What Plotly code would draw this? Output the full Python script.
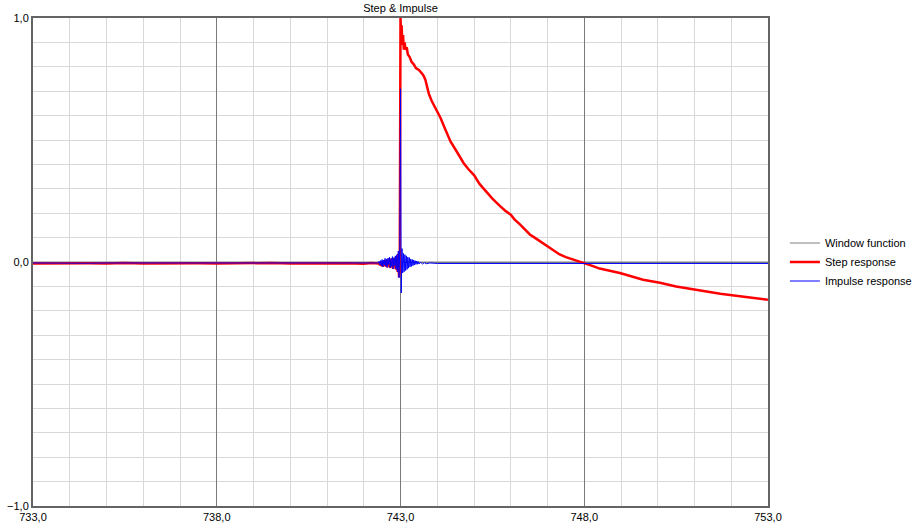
import plotly.graph_objects as go

# ---- data (time in ms, normalised amplitude) ----
window_x = [733.0, 753.0]
window_y = [0.0, 0.0]

base_x = [733.0, 733.5, 734.0, 734.5, 735.0, 735.5, 736.0, 736.5, 737.0, 737.5, 738.0,
          738.5, 739.0, 739.5, 740.0, 740.5, 741.0, 741.5, 742.0, 742.2]
step_base = [-0.006, -0.005, -0.007, -0.005, -0.006, -0.004, -0.006, -0.005, -0.006, -0.005, -0.006,
             -0.005, -0.006, -0.004, -0.006, -0.005, -0.006, -0.005, -0.007, -0.004]
imp_base = [-0.004, -0.005, -0.004, -0.005, -0.004, -0.004, -0.005, -0.004, -0.005, -0.004, -0.005,
            -0.004, -0.005, -0.004, -0.005, -0.004, -0.005, -0.004, -0.006, -0.003]

ring_x = [742.40, 742.42, 742.44, 742.46, 742.48, 742.50, 742.52, 742.54, 742.56, 742.58,
          742.60, 742.62, 742.64, 742.66, 742.68, 742.70, 742.72, 742.74, 742.76, 742.78,
          742.80, 742.82, 742.84, 742.86, 742.88, 742.90, 742.92, 742.94, 742.96, 742.98]
imp_ring = [-0.004, 0.003, -0.012, 0.006, -0.015, 0.010, -0.020, 0.008, -0.012, 0.015,
            -0.018, 0.012, -0.022, 0.016, -0.010, 0.020, -0.025, 0.014, -0.018, 0.022,
            -0.028, 0.018, -0.015, 0.025, -0.030, 0.030, -0.040, 0.045, -0.065, 0.060]
step_ring = [-0.006, -0.002, -0.014, -0.002, -0.016, 0.002, -0.020, -0.004, -0.014, 0.008,
             -0.018, 0.004, -0.022, 0.010, -0.010, 0.014, -0.024, 0.008, -0.018, 0.016,
             -0.028, 0.012, -0.014, 0.018, -0.030, 0.024, -0.040, 0.034, -0.062, -0.040]

imp_tail_x = [743.00, 743.02, 743.04, 743.06, 743.08, 743.10, 743.12, 743.14, 743.16, 743.18,
              743.20, 743.22, 743.24, 743.26, 743.28, 743.30, 743.32, 743.34, 743.36, 743.38,
              743.40, 743.42, 743.44, 743.46, 743.48, 743.50, 743.55, 743.60, 743.65, 743.70,
              743.80, 744.0, 745.0, 746.0, 747.0, 748.0, 749.0, 750.0, 751.0, 752.0, 753.0]
imp_tail = [0.71, -0.127, 0.055, -0.045, 0.035, -0.040, 0.030, -0.035, 0.025, -0.030,
            0.020, -0.025, 0.018, -0.020, 0.012, -0.018, 0.010, -0.015, 0.008, -0.012,
            0.005, -0.010, 0.004, -0.009, 0.002, -0.008, -0.002, -0.008, -0.003, -0.007,
            -0.004, -0.006, -0.006, -0.005, -0.006, -0.005, -0.006, -0.005, -0.006, -0.005, -0.006]

step_tail_x = [743.00, 743.02, 743.03, 743.05, 743.07, 743.09, 743.11, 743.14, 743.17, 743.20,
               743.25, 743.30, 743.36, 743.42, 743.50, 743.55, 743.60, 743.64, 743.68, 743.72,
               743.77, 743.85, 743.95, 744.02, 744.09, 744.20, 744.36, 744.50, 744.72, 744.85,
               745.00, 745.15, 745.35, 745.50, 745.71, 745.85, 746.00, 746.10, 746.25, 746.40,
               746.52, 746.65, 746.79, 747.00, 747.15, 747.33, 747.50, 747.69, 747.85, 748.00,
               748.20, 748.42, 748.97, 749.60, 750.06, 750.50, 751.15, 751.70, 752.40, 753.00]
step_tail = [1.00, 0.92, 0.97, 0.89, 0.93, 0.87, 0.90, 0.87, 0.88, 0.85,
             0.84, 0.82, 0.81, 0.795, 0.787, 0.78, 0.77, 0.76, 0.745, 0.72,
             0.69, 0.66, 0.63, 0.61, 0.59, 0.55, 0.494, 0.46, 0.405, 0.38,
             0.356, 0.32, 0.283, 0.26, 0.229, 0.21, 0.194, 0.175, 0.154, 0.13,
             0.113, 0.10, 0.086, 0.065, 0.048, 0.031, 0.02, 0.011, 0.003, -0.003,
             -0.015, -0.027, -0.045, -0.073, -0.085, -0.10, -0.117, -0.13, -0.143, -0.155]

step_x = base_x + ring_x + step_tail_x
step_y = step_base + step_ring + step_tail
imp_x = base_x + ring_x + imp_tail_x
imp_y = imp_base + imp_ring + imp_tail

x_ticks = [733, 738, 743, 748, 753]
y_ticks = [-1, 0, 1]

fig = go.Figure()
fig.add_trace(go.Scatter(x=window_x, y=window_y, mode="lines", name="Window function",
                         line=dict(color="#808080", width=1)))
fig.add_trace(go.Scatter(x=step_x, y=step_y, mode="lines", name="Step response",
                         line=dict(color="#ff0000", width=2.5)))
fig.add_trace(go.Scatter(x=imp_x, y=imp_y, mode="lines", name="Impulse response",
                         line=dict(color="#0000ff", width=1)))

font_family = "Liberation Sans, Arial, sans-serif"
fig.update_layout(
    width=921, height=526,
    margin=dict(l=33, r=153, t=18, b=20, autoexpand=False),
    paper_bgcolor="white", plot_bgcolor="white",
    separators=",.",
    font=dict(family=font_family, size=11, color="#000000"),
    title=dict(text="Step & Impulse", x=(33 + 768) / 2 / 921, xanchor="center",
               y=1 - 8 / 526, yanchor="middle", font=dict(size=11, color="#000000")),
    showlegend=True,
    legend=dict(x=1.023, xanchor="left", y=0.50, yanchor="middle",
                bgcolor="rgba(0,0,0,0)", borderwidth=0, itemwidth=30,
                font=dict(size=11, color="#000000"), tracegroupgap=0),
    xaxis=dict(range=[733, 753], tickvals=x_ticks, tickformat=".1f", automargin=False,
               showgrid=True, gridcolor="#7a7a7a", gridwidth=1,
               minor=dict(dtick=1, tick0=733, showgrid=True, gridcolor="#d8d8d8", gridwidth=1),
               showline=True, linecolor="#646464", linewidth=2, mirror=True,
               zeroline=False, ticks="", fixedrange=True),
    yaxis=dict(range=[-1, 1], tickvals=y_ticks, tickformat=".1f", automargin=False,
               showgrid=True, gridcolor="#7a7a7a", gridwidth=1,
               minor=dict(dtick=0.1, tick0=0, showgrid=True, gridcolor="#d8d8d8", gridwidth=1),
               showline=True, linecolor="#646464", linewidth=2, mirror=True,
               zeroline=True, zerolinecolor="#7a7a7a", zerolinewidth=1,
               ticks="", fixedrange=True),
)

fig.write_html("out.html", config={"displayModeBar": False},
               post_script="document.body.style.margin='0px';document.body.style.padding='0px';")
